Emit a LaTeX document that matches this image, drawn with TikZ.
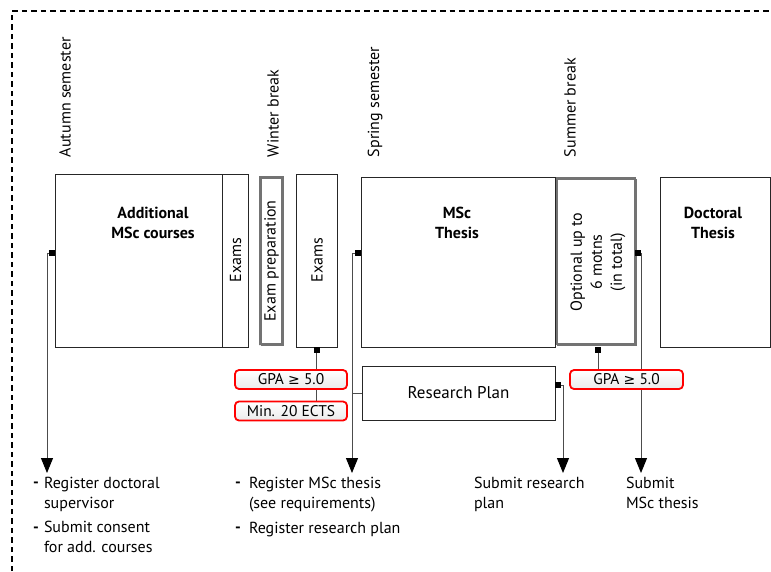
\documentclass[tikz,border=0pt]{standalone}
\usepackage{fontspec}
\setmainfont{PT Sans}
\newfontfamily\symf{DejaVu Sans}
\usetikzlibrary{arrows.meta}
\begin{document}
\begin{tikzpicture}[x=1pt,y=-1pt,
  every node/.style={font=\fontsize{16}{20}\selectfont, inner sep=0pt, outer sep=0pt},
  box/.style={draw=black!85, line width=0.9pt},
  hatch/.style={draw=black!55, line width=3pt, dash pattern=on 0.4pt off 0.35pt},
  title/.style={font=\bfseries\fontsize{16}{20}\selectfont, align=center},
  vlab/.style={rotate=90, anchor=west},
  sq/.style={fill=black, minimum size=6pt},
  gpa/.style={draw=red, line width=1.8pt, rounded corners=4pt, top color=white, bottom color=black!8, minimum width=112pt, minimum height=19pt, font=\fontsize{15.5}{17}\selectfont},
  conn/.style={draw=black!70, line width=1pt},
  arr/.style={conn, -{Triangle[length=15pt,width=12pt,fill=black,color=black]}},
  item/.style={anchor=base west, align=left},
  dashitem/.style={anchor=base west, font=\bfseries\fontsize{16}{20}\selectfont},
  frame/.style={draw=black, line width=1.3pt, dash pattern=on 5.5pt off 4pt}
]
\useasboundingbox (0,0) rectangle (771,571);
% frame
\draw[frame] (12,590) -- (12,11) -- (790,11);

% period labels
\node[vlab] (lautumn) at (65,157) {Autumn semester};
\node[vlab] (lwinter) at (273,157) {Winter break};
\node[vlab] (lspring) at (375,157) {Spring semester};
\node[vlab] (lsummer) at (570,157) {Summer break};

% boxes
\node[box, minimum width=167pt, minimum height=173pt] (add) at (138.5,260.5) {};
\node[box, minimum width=26pt, minimum height=173pt] (ex1) at (235,260.5) {};
\node[hatch, minimum width=22pt, minimum height=167pt] (prep) at (271.5,261) {};
\node[box, minimum width=41pt, minimum height=173pt] (ex2) at (316.5,260.5) {};
\node[hatch, minimum width=79pt, minimum height=166pt] (opt) at (596,261.5) {};
\node[box, minimum width=194pt, minimum height=170pt] (msc) at (458,262) {};
\node[box, minimum width=110pt, minimum height=170pt] (doc) at (715,262) {};
\node[box, minimum width=193pt, minimum height=54pt] (rp) at (458.5,393) {};
\node[font=\fontsize{17}{19}\selectfont] (rptext) at (458.5,393) {Research Plan};

% box texts
\node[title] (addt) at (153,223) {Additional\\MSc courses};
\node[title] (msct) at (457,223) {MSc\\Thesis};
\node[title] (doct) at (713,223) {Doctoral\\Thesis};
\node[rotate=90] (ex1t) at (235.5,260) {Exams};
\node[rotate=90] (prept) at (271.5,261) {Exam preparation};
\node[rotate=90] (ex2t) at (317,260) {Exams};
\node[rotate=90, align=center] (optt) at (598,262) {Optional up to\\6 motns\\(in total)};

% squares
\node[sq] (s1) at (52,253) {};
\node[sq] (s2) at (358,253) {};
\node[sq] (s3) at (316.5,350) {};
\node[sq] (s4) at (558,385) {};
\node[sq] (s5) at (598,349.5) {};
\node[sq] (s6) at (638,253) {};

% arrow ends
\coordinate (a1) at (47,473);
\coordinate (a2) at (352,473);
\coordinate (a4) at (563,473);
\coordinate (a6) at (641,473);

% GPA boxes (positions)
\coordinate (g1c) at (291,379.5);
\coordinate (m1c) at (291,411);
\coordinate (g2c) at (626.5,379.5);

% connectors
\draw[arr] (s1.west) -| (a1);
\draw[arr] (s2.west) -| (a2);
\draw[arr] (s4.east) -| (a4);
\draw[arr] (s6.east) -| (a6);
\draw[conn] (rp.west) -- (rp.west -| a2);
\draw[conn] (s3.south) -- (s3.south |- 0,402);
\draw[conn] (s5.south) -- (s5.south |- 0,370);

% GPA boxes
\node[gpa] (gpa1) at (g1c) {GPA {\symf\fontsize{14}{16}\selectfont ≥} 5.0};
\node[gpa] (min1) at (m1c) {Min. 20 ECTS};
\node[gpa, minimum width=113pt] (gpa2) at (g2c) {GPA {\symf\fontsize{14}{16}\selectfont ≥} 5.0};

% bottom texts
\node[dashitem] (d1) at (33,487) {-};
\node[item] (t1) at (44,508) {Register doctoral\\supervisor};
\node[dashitem] (d2) at (33,532) {-};
\node[item] (t2) at (44,552) {Submit consent\\for add. courses};
\node[dashitem] (d3) at (235,487) {-};
\node[item] (t3) at (249,508) {Register MSc thesis\\(see requirements)};
\node[dashitem] (d4) at (235,532) {-};
\node[item] (t4) at (249,533) {Register research plan};
\node[item] (t5) at (474,508) {Submit research\\plan};
\node[item] (t6) at (626,508) {Submit\\MSc thesis};
\end{tikzpicture}
\end{document}
